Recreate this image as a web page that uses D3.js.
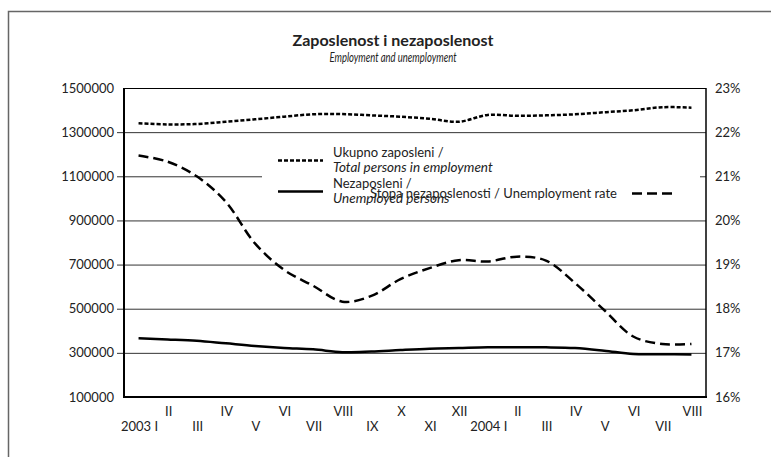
<!DOCTYPE html>
<html>
<head>
    <meta charset="utf-8">
    <style>
        body { margin: 0; background: #fff; }
        text { font-family: Lato, "Open Sans", sans-serif; fill: #222; }
        .grid line { stroke: #333; stroke-width: 1; }
    </style>
</head>
<body>
<div id="chart"></div>
<script src="https://cdn.jsdelivr.net/npm/d3@7"></script>
<script>

    // months 2003 I .. 2004 VIII
    var months = ["2003 I", "II", "III", "IV", "V", "VI", "VII", "VIII", "IX", "X", "XI", "XII",
        "2004 I", "II", "III", "IV", "V", "VI", "VII", "VIII"];

    var employed = [1340000, 1335000, 1337000, 1347000, 1358000, 1370000, 1381000, 1382000, 1376000, 1370000,
        1361000, 1347000, 1378000, 1374000, 1376000, 1381000, 1390000, 1399000, 1413000, 1411000];

    var unemployed = [366000, 361000, 355000, 343000, 331000, 322000, 316000, 303000, 306000, 313000,
        319000, 322000, 325000, 325000, 325000, 322000, 310000, 295000, 294000, 292000];

    var rate = [21.47, 21.33, 21.0, 20.42, 19.48, 18.88, 18.52, 18.16, 18.29, 18.67,
        18.92, 19.10, 19.07, 19.18, 19.09, 18.58, 17.97, 17.37, 17.2, 17.2];

    var leftTicks = [100000, 300000, 500000, 700000, 900000, 1100000, 1300000, 1500000];
    var rightTicks = [16, 17, 18, 19, 20, 21, 22, 23];

    var width = 771, height = 457;
    var m = {left: 124, right: 706, top: 88, bottom: 397};

    var svg = d3.select("#chart").append("svg")
        .attr("width", width)
        .attr("height", height);

    // outer frame
    svg.append("rect")
        .attr("x", 8.5).attr("y", 11.5)
        .attr("width", 800).attr("height", 500)
        .attr("fill", "none")
        .attr("stroke", "#666")
        .attr("stroke-width", 1.5);

    var x = d3.scaleBand().domain(d3.range(months.length)).range([m.left, m.right]);
    var cx = function (i) { return x(i) + x.bandwidth() / 2; };
    var y = d3.scaleLinear().domain([100000, 1500000]).range([m.bottom, m.top]);
    var y2 = d3.scaleLinear().domain([16, 23]).range([m.bottom, m.top]);

    // gridlines + left ticks
    svg.append("g")
        .attr("class", "grid")
        .attr("transform", "translate(" + m.left + ",0)")
        .call(d3.axisLeft(y).tickValues(leftTicks).tickSize(-(m.right - m.left)).tickFormat(""))
        .call(function (g) { g.select(".domain").remove(); });

    svg.append("g")
        .attr("class", "grid")
        .attr("transform", "translate(" + m.left + ",0)")
        .call(d3.axisLeft(y).tickValues(leftTicks.slice(1, -1)).tickSize(7).tickFormat(""))
        .call(function (g) { g.select(".domain").remove(); });

    // left labels
    svg.append("g").selectAll("text")
        .data(leftTicks)
        .join("text")
        .attr("x", 114)
        .attr("y", function (d) { return y(d) + 4.5; })
        .attr("text-anchor", "end")
        .attr("font-size", 13)
        .text(function (d) { return d; });

    // right labels
    svg.append("g").selectAll("text")
        .data(rightTicks)
        .join("text")
        .attr("x", 715)
        .attr("y", function (d) { return y2(d) + 4.5; })
        .attr("font-size", 13)
        .text(function (d) { return d + "%"; });

    // x labels, two rows
    svg.append("g").selectAll("text")
        .data(months)
        .join("text")
        .attr("x", function (d, i) { return cx(i) + 1; })
        .attr("y", function (d, i) { return i % 2 === 0 ? 431 : 416; })
        .attr("text-anchor", "middle")
        .attr("font-size", 13)
        .text(function (d) { return d; });

    // legend box (white, hides part of grid)
    var lg = svg.append("g");
    lg.append("rect")
        .attr("x", 262).attr("y", 141)
        .attr("width", 438).attr("height", 71)
        .attr("fill", "#fff");

    // lines
    var lineL = d3.line()
        .x(function (d, i) { return cx(i); })
        .y(function (d) { return y(d); })
        .curve(d3.curveCatmullRom);
    var lineR = d3.line()
        .x(function (d, i) { return cx(i); })
        .y(function (d) { return y2(d); })
        .curve(d3.curveCatmullRom);

    svg.append("path").datum(employed)
        .attr("d", lineL)
        .attr("fill", "none").attr("stroke", "#000")
        .attr("stroke-width", 2.5).attr("stroke-dasharray", "4,2");

    svg.append("path").datum(unemployed)
        .attr("d", lineL)
        .attr("fill", "none").attr("stroke", "#000")
        .attr("stroke-width", 2.5);

    svg.append("path").datum(rate)
        .attr("d", lineR)
        .attr("fill", "none").attr("stroke", "#000")
        .attr("stroke-width", 2.5).attr("stroke-dasharray", "10,5");

    // legend items
    lg.append("line").attr("x1", 278).attr("x2", 323).attr("y1", 160.5).attr("y2", 160.5)
        .attr("stroke", "#000").attr("stroke-width", 2.5).attr("stroke-dasharray", "4,2");
    lg.append("line").attr("x1", 278).attr("x2", 323).attr("y1", 191.5).attr("y2", 191.5)
        .attr("stroke", "#000").attr("stroke-width", 2.5);
    lg.append("line").attr("x1", 632).attr("x2", 677).attr("y1", 193.5).attr("y2", 193.5)
        .attr("stroke", "#000").attr("stroke-width", 2.5).attr("stroke-dasharray", "10,5");

    lg.append("text").attr("x", 333).attr("y", 157).attr("font-size", 13).text("Ukupno zaposleni /");
    lg.append("text").attr("x", 333).attr("y", 172).attr("font-size", 13.5).attr("font-style", "italic")
        .text("Total persons in employment");
    lg.append("text").attr("x", 333).attr("y", 188).attr("font-size", 13).text("Nezaposleni /");
    lg.append("text").attr("x", 333).attr("y", 203).attr("font-size", 13.5).attr("font-style", "italic")
        .text("Unemployed persons");
    lg.append("text").attr("x", 370).attr("y", 197.5).attr("font-size", 13)
        .text("Stopa nezaposlenosti / Unemployment rate");

    // plot border
    svg.append("line").attr("x1", m.left).attr("x2", m.right).attr("y1", m.top + 0.5).attr("y2", m.top + 0.5)
        .attr("stroke", "#000").attr("stroke-width", 1);
    svg.append("line").attr("x1", m.left).attr("x2", m.left).attr("y1", m.top).attr("y2", m.bottom + 1)
        .attr("stroke", "#000").attr("stroke-width", 2);
    svg.append("line").attr("x1", m.left - 1).attr("x2", m.right + 1).attr("y1", m.bottom).attr("y2", m.bottom)
        .attr("stroke", "#000").attr("stroke-width", 2);
    svg.append("line").attr("x1", m.right).attr("x2", m.right).attr("y1", m.top).attr("y2", m.bottom + 1)
        .attr("stroke", "#000").attr("stroke-width", 1.5);

    // titles
    svg.append("text").attr("x", 393).attr("y", 46).attr("text-anchor", "middle")
        .attr("font-size", 16).attr("font-weight", "bold")
        .attr("textLength", 201).attr("lengthAdjust", "spacingAndGlyphs")
        .text("Zaposlenost i nezaposlenost");
    svg.append("text").attr("x", 393).attr("y", 62).attr("text-anchor", "middle")
        .attr("font-size", 12.5).attr("font-style", "italic")
        .attr("textLength", 127).attr("lengthAdjust", "spacingAndGlyphs")
        .text("Employment and unemployment");

</script>
</body>
</html>
